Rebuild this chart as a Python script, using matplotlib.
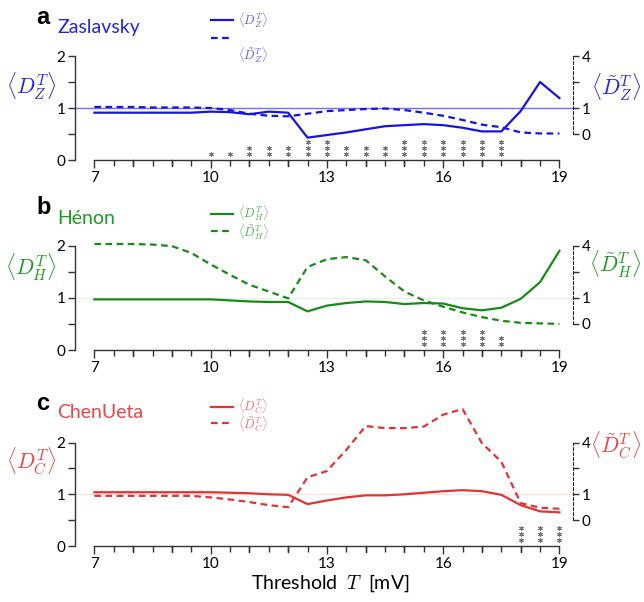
import numpy as np
import matplotlib
matplotlib.use('Agg')
import matplotlib.pyplot as plt
from matplotlib.lines import Line2D

plt.rcParams['font.family'] = ['Lato', 'DejaVu Sans']
plt.rcParams['mathtext.fontset'] = 'cm'

# thresholds (mV)
thr = [7, 7.5, 8, 8.5, 9, 9.5, 10, 10.5, 11, 11.5, 12, 12.5, 13,
       13.5, 14, 14.5, 15, 15.5, 16, 16.5, 17, 17.5, 18, 18.5, 19]

# Zaslavsky
zas_mean = [0.91, 0.91, 0.91, 0.91, 0.91, 0.91, 0.93, 0.92, 0.88, 0.93, 0.91, 0.43, 0.48,
            0.53, 0.59, 0.65, 0.67, 0.69, 0.67, 0.62, 0.55, 0.55, 0.94, 1.50, 1.19]
zas_med = [1.02, 1.02, 1.02, 1.01, 1.01, 1.01, 1.00, 0.96, 0.89, 0.85, 0.84, 0.89, 0.94,
           0.96, 0.98, 0.99, 0.96, 0.91, 0.85, 0.77, 0.68, 0.63, 0.53, 0.51, 0.51]
zas_stars = [0, 0, 0, 0, 0, 0, 1, 1, 2, 2, 2, 3, 3, 2, 2, 2, 3, 3, 3, 3, 3, 3, 0, 0, 0]

# Henon
hen_mean = [0.97, 0.97, 0.97, 0.97, 0.97, 0.97, 0.97, 0.95, 0.93, 0.92, 0.92, 0.74, 0.85,
            0.90, 0.93, 0.92, 0.88, 0.90, 0.89, 0.80, 0.76, 0.81, 0.98, 1.30, 1.90]
hen_med = [2.03, 2.03, 2.03, 2.02, 1.99, 1.86, 1.64, 1.44, 1.25, 1.12, 0.99, 1.59, 1.74,
           1.78, 1.72, 1.41, 1.12, 0.95, 0.83, 0.72, 0.63, 0.56, 0.52, 0.51, 0.50]
hen_stars = [0, 0, 0, 0, 0, 0, 0, 0, 0, 0, 0, 0, 0, 0, 0, 0, 0, 3, 3, 3, 3, 2, 0, 0, 0]

# ChenUeta
chen_mean = [1.04, 1.04, 1.04, 1.04, 1.04, 1.04, 1.04, 1.03, 1.02, 1.00, 0.99, 0.81, 0.88,
             0.94, 0.98, 0.98, 1.00, 1.03, 1.06, 1.08, 1.06, 0.99, 0.79, 0.67, 0.65]
chen_med = [0.97, 0.97, 0.97, 0.97, 0.97, 0.97, 0.94, 0.90, 0.85, 0.79, 0.75, 1.33, 1.45,
            1.86, 2.32, 2.28, 2.28, 2.31, 2.54, 2.65, 1.99, 1.63, 0.83, 0.74, 0.72]
chen_stars = [0] * 22 + [3, 3, 3]

W, H = 644, 602
fig = plt.figure(figsize=(W / 100, H / 100), dpi=100)

panels = [
    dict(letter='a', name='Zaslavsky', sub='Z', color='#1414e6', text='#2323ee',
         legtext='#5a5af0', hline='#7070ff', mean=zas_mean, med=zas_med, stars=zas_stars,
         y0=160, upu=52.0, ytop=2.12, title_y=28, letter_y=18, leg=(20, 38, 20, 55),
         ylab_y=86, rlab_y=87),
    dict(letter='b', name='Hénon', sub='H', color='#168c16', text='#1e9a1e',
         legtext='#50b050', hline='#e6f3e6', mean=hen_mean, med=hen_med, stars=hen_stars,
         y0=350, upu=52.2, ytop=2.15, title_y=219, letter_y=208, leg=(214, 231, 213, 232),
         ylab_y=267, rlab_y=264),
    dict(letter='c', name='ChenUeta', sub='C', color='#e23434', text='#e84545',
         legtext='#ee7070', hline='#fbe4dc', mean=chen_mean, med=chen_med, stars=chen_stars,
         y0=546, upu=51.7, ytop=2.75, title_y=413, letter_y=404, leg=(407, 423, 406, 424),
         ylab_y=461, rlab_y=445),
]

x_left, x_right = 75, 573
xlo, xhi = 6.5, 19.35

for p in panels:
    h = p['ytop'] * p['upu']
    ax = fig.add_axes([x_left / W, 1 - p['y0'] / H, (x_right - x_left) / W, h / H])
    ax.set_xlim(xlo, xhi)
    ax.set_ylim(0, p['ytop'])
    for s in ['top', 'right']:
        ax.spines[s].set_visible(False)
    ax.spines['left'].set_bounds(0, 2)
    ax.spines['bottom'].set_bounds(7, 19)
    for s in ['left', 'bottom']:
        ax.spines[s].set_color('#333333')
        ax.spines[s].set_linewidth(1.0)
    ax.set_yticks([0, 0.5, 1, 1.5, 2])
    ax.set_yticklabels(['0', '', '1', '', '2'])
    ax.set_xticks([7, 10, 13, 16, 19])
    ax.set_xticks(np.arange(7, 19.01, 0.5), minor=True)
    ax.tick_params(axis='both', which='major', labelsize=11, length=5, width=1.0,
                   color='#333333', pad=2)
    ax.tick_params(axis='x', which='major', length=6)
    ax.tick_params(axis='x', which='minor', length=4, width=1.0, color='#333333')
    # longer ticks on whole millivolts
    for xm in [8, 9, 11, 12, 14, 15, 17, 18]:
        ax.plot([xm, xm], [0, -0.11], color='#333333', lw=1.0, clip_on=False)

    ax.axhline(1, xmin=0, xmax=1, color=p['hline'], lw=1.0, zorder=1)
    ax.plot(thr, p['mean'], color=p['color'], lw=1.6, zorder=3)
    ax.plot(thr, p['med'], color=p['color'], lw=1.6, ls=(0, (3, 2)), zorder=3)

    # significance stars
    for t, n in zip(thr, p['stars']):
        for k in range(n):
            ax.plot(t, 0.11 + 0.12 * k, marker=(6, 2, 0), ms=3.5, color='#777777',
                    mew=0.7, ls='none')

    # right axis (dashed spine)
    ax2 = ax.twinx()
    ax2.set_ylim(0, p['ytop'])
    for s in ['top', 'left', 'bottom']:
        ax2.spines[s].set_visible(False)
    ax2.spines['right'].set_bounds(0.5, 2)
    ax2.spines['right'].set_linestyle((0, (2.5, 2)))
    ax2.spines['right'].set_color('#222222')
    ax2.set_yticks([0.5, 1, 1.5, 2])
    ax2.set_yticklabels(['0', '1', '', '4'])
    ax2.tick_params(axis='y', labelsize=11, length=4, width=1.0, color='#333333', pad=2)

    c = p['sub']
    ax.text(-0.088, (p['y0'] - p['ylab_y']) / p['upu'], r'$\langle D_{%s}^{T}\rangle$' % c,
            transform=ax.get_yaxis_transform(), color=p['text'], fontsize=15.5,
            ha='center', va='center')
    ax.text(1.086, (p['y0'] - p['rlab_y']) / p['upu'],
            r'$\langle \tilde{D}_{%s}^{T}\rangle$' % c,
            transform=ax.get_yaxis_transform(), color=p['text'], fontsize=15.5,
            ha='center', va='center')

    fig.text(36 / W, 1 - p['letter_y'] / H, p['letter'], fontsize=17, fontweight='bold',
             family='Liberation Sans', ha='left', va='center')
    fig.text(57 / W, 1 - p['title_y'] / H, p['name'], fontsize=14, color=p['text'],
             ha='left', va='center')

    ys, yd, yls, yld = p['leg']
    fig.add_artist(Line2D([211 / W, 233 / W], [1 - ys / H, 1 - ys / H], color=p['color'], lw=1.6))
    fig.add_artist(Line2D([211 / W, 233 / W], [1 - yd / H, 1 - yd / H], color=p['color'], lw=1.6,
                          ls=(0, (3, 2))))
    fig.text(238 / W, 1 - yls / H, r'$\langle D_{%s}^{T}\rangle$' % c, fontsize=9,
             color=p['legtext'], ha='left', va='center')
    fig.text(238 / W, 1 - yld / H, r'$\langle \tilde{D}_{%s}^{T}\rangle$' % c, fontsize=9,
             color=p['legtext'], ha='left', va='center')

fig.text(330 / W, 1 - 583 / H, r'Threshold  $T$  [mV]', fontsize=14, ha='center', va='center')

fig.savefig('out.png', dpi=100)
